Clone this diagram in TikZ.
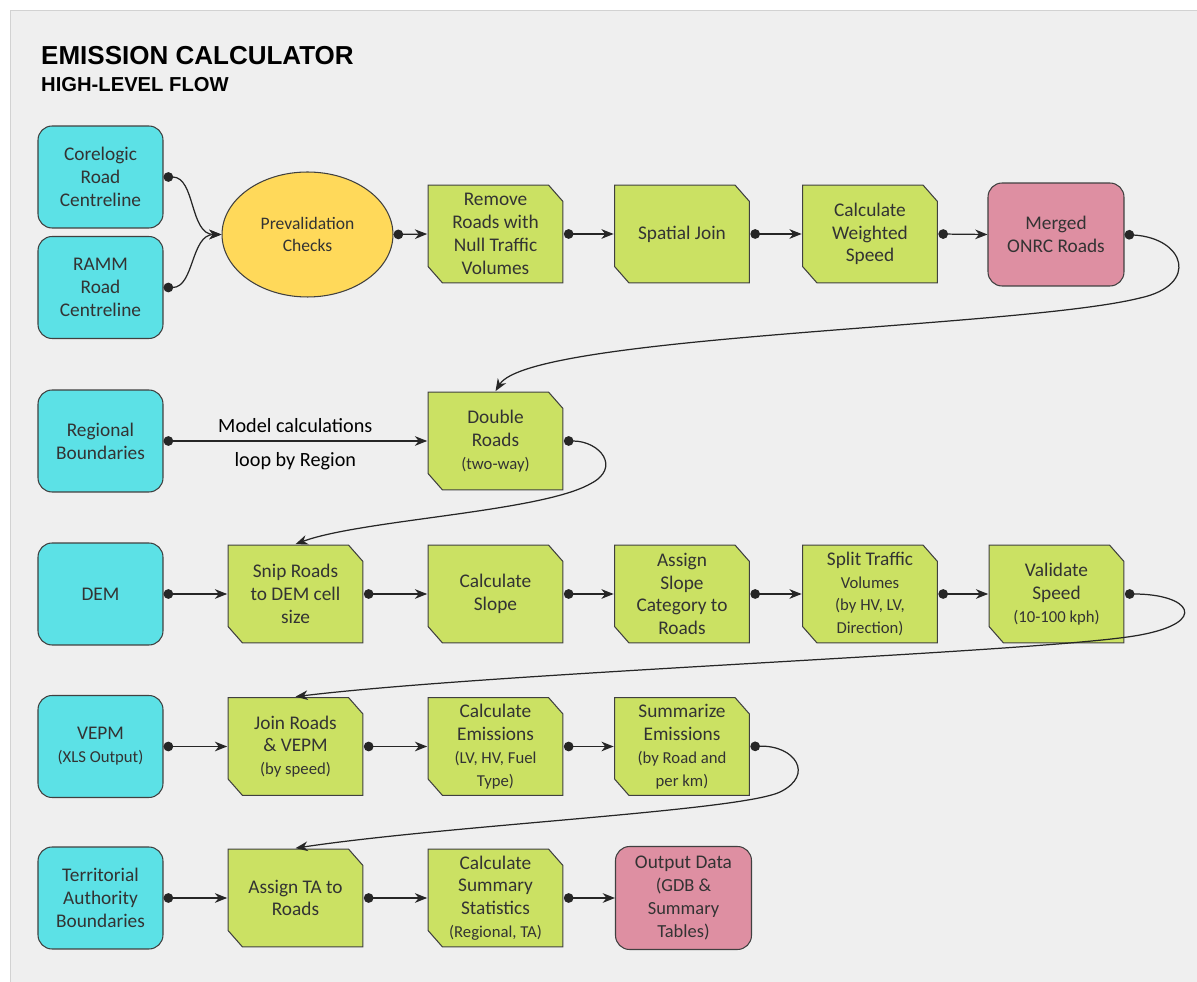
\documentclass[tikz,border=0pt]{standalone}
\usepackage{fontspec}
\setmainfont{Carlito}
\newfontfamily\headfont{Liberation Sans}
\usetikzlibrary{shapes.geometric,arrows.meta}

\definecolor{panelgrey}{HTML}{EFEFEF}
\definecolor{panelline}{HTML}{D2D2D2}
\definecolor{datacyan}{HTML}{5CE1E6}
\definecolor{toolgreen}{HTML}{CBE163}
\definecolor{checkyellow}{HTML}{FFD95A}
\definecolor{outpink}{HTML}{DE8FA2}

% smaller second lines inside the boxes
\newcommand{\detail}[1]{{\fontsize{9.5}{12.5}\selectfont #1}}
\newcommand{\midtext}[1]{{\fontsize{10.5}{12.5}\selectfont #1}}

\begin{document}
\begin{tikzpicture}[x=0.02cm, y=-0.02cm,
    every node/.style={font=\fontsize{11}{13}\selectfont, text=black!80, align=center},
    datain/.style={draw=black!75, line width=0.6pt, fill=datacyan, rounded corners=8pt,
        minimum width=2.5cm, minimum height=2.04cm, inner sep=2pt},
    dataout/.style={datain, fill=outpink, minimum width=2.72cm, minimum height=2.06cm},
    tool/.style={rectangle, minimum width=2.72cm, minimum height=1.98cm, inner sep=1pt,
        path picture={
            \draw[fill=toolgreen, draw=black!75, line width=0.6pt]
                ([xshift=0.3pt, yshift=-0.3pt]path picture bounding box.north west)
                -- ([xshift=-0.3cm, yshift=-0.3pt]path picture bounding box.north east)
                -- ([xshift=-0.3pt, yshift=-0.34cm]path picture bounding box.north east)
                -- ([xshift=-0.3pt, yshift=0.3pt]path picture bounding box.south east)
                -- ([xshift=0.3cm, yshift=0.3pt]path picture bounding box.south west)
                -- ([xshift=0.3pt, yshift=0.34cm]path picture bounding box.south west)
                -- cycle;}},
    check/.style={ellipse, draw=black!75, line width=0.6pt, fill=checkyellow,
        minimum width=3.42cm, minimum height=2.5cm, font=\fontsize{10}{13}\selectfont},
    flow/.style={line width=0.7pt, black!85,
        {Circle[length=5.5pt]}-{Stealth[length=7pt, width=5.5pt, inset=2.2pt]}}]

    % Fond et cadre
    \useasboundingbox (0,0) rectangle (1197,982);
    \fill[white] (0,0) rectangle (1197,982);
    \draw[panelline, fill=panelgrey] (10,10) rectangle (1210,995);

    % Titre
    \node[anchor=base west, text=black, font=\headfont\bfseries\fontsize{14.8}{17}\selectfont] (title) at (35,65) {EMISSION CALCULATOR};
    \node[anchor=base west, text=black, font=\headfont\bfseries\fontsize{11.5}{14}\selectfont] (subtitle) at (35,92) {HIGH-LEVEL FLOW};

    % Ligne 1
    \node[datain] (corelogic) at (100.5,177) {Corelogic\\Road\\Centreline};
    \node[datain] (ramm) at (100.5,287.5) {RAMM\\Road\\Centreline};
    \node[check] (prevalid) at (307.5,234.5) {Prevalidation\\Checks};
    \node[tool] (removenull) at (495.5,234) {Remove\\Roads with\\Null Traffic\\Volumes};
    \node[tool] (spatial) at (682,234) {Spatial Join};
    \node[tool] (weighted) at (870,234) {Calculate\\Weighted\\Speed};
    \node[dataout] (merged) at (1056,234.5) {Merged\\ONRC Roads};

    % Ligne 2
    \node[datain] (regional) at (100.5,441) {Regional\\Boundaries};
    \node[tool] (double) at (495.5,441) {Double\\Roads\\\detail{(two-way)}};

    % Ligne 3
    \node[datain] (dem) at (100.5,594) {DEM};
    \node[tool] (snip) at (295.5,594) {Snip Roads\\to DEM cell\\size};
    \node[tool] (slope) at (495.5,594) {Calculate\\Slope};
    \node[tool] (slopecat) at (682,594) {Assign\\Slope\\Category to\\Roads};
    \node[tool] (split) at (870,594) {Split Traffic\\\detail{Volumes}\\\detail{(by HV, LV,}\\\detail{Direction)}};
    \node[tool] (validate) at (1056.5,594) {Validate\\Speed\\\detail{(10-100 kph)}};

    % Ligne 4
    \node[datain] (vepm) at (100.5,746.5) {VEPM\\\detail{(XLS Output)}};
    \node[tool] (joinvepm) at (295.5,746.5) {Join Roads\\\& VEPM\\\detail{(by speed)}};
    \node[tool] (emissions) at (495.5,746.5) {Calculate\\Emissions\\\detail{(LV, HV, Fuel}\\\detail{Type)}};
    \node[tool] (summarize) at (682,746.5) {Summarize\\Emissions\\\detail{(by Road and}\\\detail{per km)}};

    % Ligne 5
    \node[datain] (territorial) at (100.5,898) {Territorial\\Authority\\Boundaries};
    \node[tool] (assignta) at (295.5,898) {Assign TA to\\Roads};
    \node[tool] (summary) at (495.5,898) {Calculate\\Summary\\Statistics\\\detail{(Regional, TA)}};
    \node[dataout] (output) at (683.5,898) {Output Data\\\midtext{(GDB \&}\\\midtext{Summary}\\\midtext{Tables)}};

    % Connexions ligne 1
    \draw[flow] (corelogic.east) to[out=0, in=180] (prevalid.west);
    \draw[flow] (ramm.east) to[out=0, in=180] (prevalid.west);
    \draw[flow] (prevalid.east) -- (removenull.west);
    \draw[flow] (removenull.east) -- (spatial.west);
    \draw[flow] (spatial.east) -- (weighted.west);
    \draw[flow] (weighted.east) -- (merged.west);
    \draw[flow] (merged.east) .. controls (1185,238) and (1200,285) .. (1140,298)
        .. controls (1020,328) and (530,335) .. (double.north);

    % Connexions ligne 2
    \draw[flow] (regional.east) -- (double.west)
        node[midway, above=1pt, text=black, font=\fontsize{11.5}{13}\selectfont] (looptop) {Model calculations}
        node[midway, below=3pt, text=black, font=\fontsize{11.5}{13}\selectfont] (loopbot) {loop by Region};
    \draw[flow] (double.east) .. controls (600,441) and (622,468) .. (590,484)
        .. controls (540,512) and (360,520) .. (snip.north);

    % Connexions ligne 3
    \draw[flow] (dem.east) -- (snip.west);
    \draw[flow] (snip.east) -- (slope.west);
    \draw[flow] (slope.east) -- (slopecat.west);
    \draw[flow] (slopecat.east) -- (split.west);
    \draw[flow] (split.east) -- (validate.west);
    \draw[flow] (validate.east) .. controls (1190,594) and (1210,622) .. (1140,635)
        .. controls (1050,652) and (500,672) .. (joinvepm.north);

    % Connexions ligne 4
    \draw[flow] (vepm.east) -- (joinvepm.west);
    \draw[flow] (joinvepm.east) -- (emissions.west);
    \draw[flow] (emissions.east) -- (summarize.west);
    \draw[flow] (summarize.east) .. controls (795,745) and (815,775) .. (780,792)
        .. controls (740,811) and (450,825) .. (assignta.north);

    % Connexions ligne 5
    \draw[flow] (territorial.east) -- (assignta.west);
    \draw[flow] (assignta.east) -- (summary.west);
    \draw[flow] (summary.east) -- (output.west);
\end{tikzpicture}
\end{document}
